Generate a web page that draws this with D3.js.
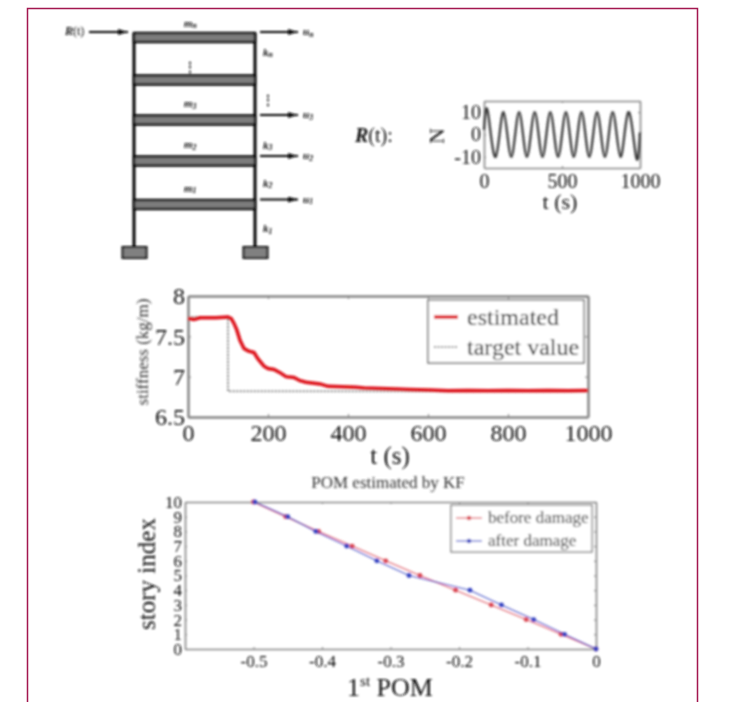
<!DOCTYPE html>
<html><head><meta charset="utf-8">
<script src="https://cdn.jsdelivr.net/npm/d3@7"></script>
<style>
html,body{margin:0;padding:0;background:#fff}
svg{display:block}
text{font-family:"Liberation Serif",serif}
.axis path{stroke:#858585;fill:none}
.axis line{stroke:#808080;stroke-width:1}
.axis text{font-family:"Liberation Serif",serif;fill:#111}
</style></head><body>
<script>
// ---- force panel
const forceTime=[0,25,75,125,175,225,275,325,375,425,475,525,575,625,675,725,775,825,875,925,975,1000];
const forceValue=[2,10,-10,10,-10,10,-10,10,-10,10,-10,10,-10,10,-10,10,-10,10,-10,10,-10,1];
const forceXTicks=[0,500,1000];
const forceYTicks=[-10,0,10];
// ---- stiffness panel
const stiffTime=[0,15,30,50,70,100,108,115,122,130,140,150,165,175,190,200,215,230,245,265,280,295,330,350,420,440,500,550,600,650,700,750,800,850,900,950,1000];
const stiffEstimated=[7.72,7.71,7.73,7.73,7.73,7.74,7.72,7.66,7.58,7.45,7.35,7.32,7.30,7.22,7.13,7.10,7.09,7.05,7.00,6.99,6.95,6.93,6.91,6.88,6.87,6.86,6.85,6.84,6.835,6.825,6.83,6.825,6.83,6.825,6.83,6.825,6.83];
const targetTime=[0,100,100,1000];
const targetValue=[7.74,7.74,6.82,6.82];
const stiffXTicks=[0,200,400,600,800,1000];
const stiffYTicks=[6.5,7,7.5,8];
// ---- POM panel
const stories=[10,9,8,7,6,5,4,3,2,1,0];
const pomBefore=[-0.5,-0.453,-0.405,-0.356,-0.307,-0.257,-0.205,-0.153,-0.102,-0.051,0];
const pomAfter=[-0.498,-0.45,-0.409,-0.364,-0.32,-0.273,-0.184,-0.138,-0.091,-0.046,0];
const pomXTicks=[-0.5,-0.4,-0.3,-0.2,-0.1,0];
const pomYTicks=[0,1,2,3,4,5,6,7,8,9,10];
// ---- frame schematic
const floorLabels=["n","","3","2","1"];
const floorIndex=[0,1,2,3,4];
const arrowLabels=[["n",0],["3",2],["2",3],["1",4]];
const stiffLabels=[["n",0],["3",2.6],["2",3.5],["1",4.55]];

const svg=d3.select("body").append("svg").attr("width",734).attr("height",702);
const defs=svg.append("defs");
defs.append("filter").attr("id","soft").attr("x","-5%").attr("y","-5%").attr("width","110%").attr("height","110%")
  .append("feGaussianBlur").attr("stdDeviation",0.85);
const mk=defs.append("marker").attr("id","arr").attr("viewBox","0 0 10 6").attr("refX",10).attr("refY",3)
  .attr("markerWidth",12).attr("markerHeight",6).attr("markerUnits","userSpaceOnUse").attr("orient","auto");
mk.append("path").attr("d","M0,0L10,3L0,6Z").attr("fill","#111");

// page border
svg.append("path").attr("d","M27.5,702V8.5H697.5V702").attr("fill","none").attr("stroke","#a3174f").attr("stroke-width",1.5);

const root=svg.append("g").attr("filter","url(#soft)");
const ink="#111";

function frameAxes(g,x,y,xTicks,yTicks,xFmt,yFmt,fs,xPad,yPad,tick,frame){
  const [x0,x1]=x.range(),[y1,y0]=y.range();
  const parts=[
   g.append("g").attr("class","axis").attr("transform",`translate(0,${y1})`)
   .call(d3.axisBottom(x).tickValues(xTicks).tickFormat(xFmt).tickSizeInner(-tick).tickSizeOuter(0).tickPadding(xPad)),
   g.append("g").attr("class","axis").attr("transform",`translate(${x0},0)`)
   .call(d3.axisLeft(y).tickValues(yTicks).tickFormat(yFmt).tickSizeInner(-tick).tickSizeOuter(0).tickPadding(yPad)),
   g.append("g").attr("class","axis").attr("transform",`translate(0,${y0})`)
   .call(d3.axisTop(x).tickValues(xTicks).tickFormat("").tickSizeInner(-tick).tickSizeOuter(0)),
   g.append("g").attr("class","axis").attr("transform",`translate(${x1},0)`)
   .call(d3.axisRight(y).tickValues(yTicks).tickFormat("").tickSizeInner(-tick).tickSizeOuter(0))];
  parts.forEach(p=>{p.selectAll("text").attr("font-size",fs);p.select("path").attr("stroke-width",frame);});
}
const plain=v=>String(v);

// ---------- schematic
const sch=root.append("g");
const floorY=d3.scaleLinear().domain(floorIndex).range([37.5,80,120,161,204.5]);
const colX=[134,255];
sch.selectAll("line.col").data(colX).join("line").attr("class","col")
  .attr("x1",d=>d).attr("x2",d=>d).attr("y1",33).attr("y2",247).attr("stroke","#000").attr("stroke-width",3);
sch.selectAll("rect.floor").data(floorIndex).join("rect").attr("class","floor")
  .attr("x",134).attr("width",121).attr("y",d=>floorY(d)-4.5).attr("height",9)
  .attr("fill","#7d7d7d").attr("stroke","#000").attr("stroke-width",2.4);
sch.selectAll("rect.foot").data(colX).join("rect").attr("class","foot")
  .attr("x",d=>d-11.5).attr("y",247).attr("width",24).attr("height",11)
  .attr("fill","#808080").attr("stroke","#000").attr("stroke-width",2);
function symbol(g,x,y,main,sub,fs){
  const t=g.append("text").attr("x",x).attr("y",y).attr("font-size",fs).attr("font-weight","bold").attr("font-style","italic").attr("fill",ink);
  t.append("tspan").text(main);
  t.append("tspan").attr("font-size",fs*0.7).attr("dy",1.5).text(sub);
  return t;
}
floorIndex.filter(i=>floorLabels[i]).forEach(i=>symbol(sch,184,floorY(i)-(i===0?11:13),"m",floorLabels[i],11));
const arrowY=d=>d[1]===0?32:floorY(d[1])-5;
sch.selectAll("line.arrow").data(arrowLabels).join("line").attr("class","arrow")
  .attr("x1",260).attr("x2",298).attr("y1",arrowY).attr("y2",arrowY)
  .attr("stroke","#000").attr("stroke-width",1.8).attr("marker-end","url(#arr)");
arrowLabels.forEach(d=>symbol(sch,303,arrowY(d)+3,"u",d[0],11));
stiffLabels.forEach(d=>symbol(sch,263,floorY(d[1])+(d[1]===0?18:4),"k",d[0],11));
sch.append("line").attr("x1",89).attr("x2",128).attr("y1",32).attr("y2",32).attr("stroke","#000").attr("stroke-width",1.8).attr("marker-end","url(#arr)");
const rt=sch.append("text").attr("x",65).attr("y",35).attr("font-size",12).attr("fill",ink);
rt.append("tspan").attr("font-weight","bold").attr("font-style","italic").text("R");
rt.append("tspan").text("(t)");
sch.append("text").attr("x",190).attr("y",71).attr("font-size",12).attr("text-anchor","middle").attr("font-weight","bold").attr("fill",ink).text("⋮");
sch.append("text").attr("x",268).attr("y",104).attr("font-size",12).attr("text-anchor","middle").attr("font-weight","bold").attr("fill",ink).text("⋮");

// ---------- force panel
const fg=root.append("g");
const rl=fg.append("text").attr("x",355).attr("y",142).attr("font-size",20).attr("fill",ink);
rl.append("tspan").attr("font-weight","bold").attr("font-style","italic").text("R");
rl.append("tspan").text("(t):");
const fx=d3.scaleLinear().domain([0,1000]).range([484,640]);
const fy=d3.scaleLinear().domain([-15,15]).range([168,101]);
frameAxes(fg,fx,fy,forceXTicks,forceYTicks,plain,plain,20,6,3,2,1.6);
fg.append("path").attr("fill","none").attr("stroke","#3a3a3a").attr("stroke-width",2.3)
  .attr("d",d3.line().x((d,i)=>fx(forceTime[i])).y(d=>fy(d)).curve(d3.curveNatural)(forceValue));
fg.append("text").attr("x",560).attr("y",209).attr("font-size",22).attr("text-anchor","middle").attr("fill",ink).text("t (s)");
fg.append("text").attr("transform","translate(444,136) rotate(-90)").attr("font-size",22).attr("text-anchor","middle").attr("fill",ink).text("N");

// ---------- stiffness panel
const sg=root.append("g");
const sx=d3.scaleLinear().domain([0,1000]).range([188,588]);
const sy=d3.scaleLinear().domain([6.5,8]).range([417,296]);
frameAxes(sg,sx,sy,stiffXTicks,stiffYTicks,plain,plain,24,7,3,3,2.5);
sg.append("path").attr("fill","none").attr("stroke","#888").attr("stroke-width",2).attr("stroke-dasharray","2 1.5")
  .attr("d",d3.line().x((d,i)=>sx(targetTime[i])).y(d=>sy(d))(targetValue));
sg.append("path").attr("fill","none").attr("stroke","#dd0a14").attr("stroke-width",3.5)
  .attr("d",d3.line().x((d,i)=>sx(stiffTime[i])).y(d=>sy(d))(stiffEstimated));
sg.append("rect").attr("x",428).attr("y",300).attr("width",156).attr("height",63).attr("fill","#fff").attr("stroke","#444").attr("stroke-width",1.2);
sg.append("line").attr("x1",434).attr("x2",458).attr("y1",317).attr("y2",317).attr("stroke","#dd0a14").attr("stroke-width",3.5);
sg.append("line").attr("x1",434).attr("x2",458).attr("y1",347).attr("y2",347).attr("stroke","#888").attr("stroke-width",2).attr("stroke-dasharray","2 1.5");
sg.append("text").attr("x",467).attr("y",325).attr("font-size",24).attr("fill",ink).text("estimated");
sg.append("text").attr("x",467).attr("y",355).attr("font-size",24).attr("fill",ink).text("target value");
sg.append("text").attr("x",390).attr("y",464).attr("font-size",25).attr("text-anchor","middle").attr("fill",ink).text("t (s)");
sg.append("text").attr("transform","translate(148,352) rotate(-90)").attr("font-size",17).attr("text-anchor","middle").attr("fill","#333").text("stiffness (kg/m)");

// ---------- POM panel
const pg=root.append("g");
const px=d3.scaleLinear().domain([-0.6,0]).range([185,596]);
const py=d3.scaleLinear().domain([0,10]).range([649,502]);
frameAxes(pg,px,py,pomXTicks,pomYTicks,plain,plain,17,6,3,2,1.6);
const pomSeries=[[pomBefore,"#d9434f"],[pomAfter,"#3340c0"]];
pomSeries.forEach(([vals,col])=>{
  pg.append("path").attr("fill","none").attr("stroke",col).attr("stroke-width",1.1).attr("opacity",0.85)
    .attr("d",d3.line().x(d=>px(d)).y((d,i)=>py(stories[i]))(vals));
  pg.selectAll(null).data(vals).join("circle").attr("cx",d=>px(d)).attr("cy",(d,i)=>py(stories[i])).attr("r",2.4).attr("fill",col);
});
pg.append("rect").attr("x",451).attr("y",505).attr("width",141).attr("height",47).attr("fill","#fff").attr("stroke","#444").attr("stroke-width",1);
[["before damage",pomSeries[0][1],518,523],["after damage",pomSeries[1][1],541,546]].forEach(([t,c,yl,yt])=>{
  pg.append("line").attr("x1",456).attr("x2",482).attr("y1",yl).attr("y2",yl).attr("stroke",c).attr("stroke-width",1);
  pg.append("circle").attr("cx",469).attr("cy",yl).attr("r",2.2).attr("fill",c);
  pg.append("text").attr("x",488).attr("y",yt).attr("font-size",17).attr("fill","#222").text(t);
});
pg.append("text").attr("x",388).attr("y",488).attr("font-size",17).attr("text-anchor","middle").attr("fill","#333").text("POM estimated by KF");
pg.append("text").attr("transform","translate(155,574) rotate(-90)").attr("font-size",25).attr("text-anchor","middle").attr("fill",ink).text("story index");
const xl=pg.append("text").attr("x",390).attr("y",696).attr("font-size",26).attr("text-anchor","middle").attr("fill",ink);
xl.append("tspan").text("1");
xl.append("tspan").attr("font-size",15).attr("dy",-10).text("st");
xl.append("tspan").attr("dy",10).text(" POM");
</script>
</body></html>
